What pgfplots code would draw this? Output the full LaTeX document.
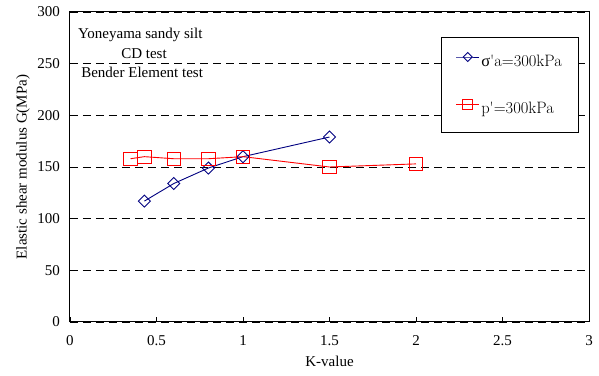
\documentclass[border=0pt]{standalone}
\usepackage{pgfplots}
\pgfplotsset{compat=1.18}
\usepackage{fontspec}
\setmainfont{Liberation Serif}
\newfontfamily\lmfont{Latin Modern Roman}
\definecolor{navyb}{RGB}{0,0,128}
\definecolor{redr}{RGB}{255,0,0}
\begin{document}
\fontsize{15}{18}\selectfont
\begin{tikzpicture}
\begin{axis}[
  name=ax,
  scale only axis,
  width=519pt, height=310pt,
  xmin=0, xmax=3, ymin=0, ymax=300,
  xtick={0,0.5,...,3},
  ytick={0,50,...,300},
  xticklabels={0,0.5,1,1.5,2,2.5,3},
  xtick pos=left, ytick pos=left,
  tick align=inside,
  major tick length=5pt,
  tick style={black, line width=0.8pt},
  axis line style={line width=1pt, black},
  ymajorgrids,
  major grid style={black, line width=0.8pt, dash pattern=on 8pt off 5pt},
  /pgf/number format/assume math mode=true,
  tick label style={font=\fontsize{15}{18}\selectfont},
  xticklabel style={yshift=-8pt},
  yticklabel style={xshift=-5pt},
  label style={font=\fontsize{15}{18}\selectfont},
  xlabel={K-value},
  ylabel={Elastic shear modulus G(MPa)},
  xlabel style={at={(axis description cs:0.5,0)}, anchor=center, yshift=-39pt},
  ylabel style={at={(axis description cs:-0.0906,0.5)}, anchor=center},
  legend style={font=\lmfont\fontsize{16.5}{19}\selectfont, draw=black, line width=0.8pt,
    at={(rel axis cs:0.7148,0.919)}, anchor=north west,
    nodes={inner sep=1.5pt},
    inner xsep=14.5pt, inner ysep=15pt, row sep=29pt},
  legend cell align=left,
  legend image code/.code={
    \draw[mark repeat=2, mark phase=2, /tikz/every mark/.append style={scale=0.75}]
      plot coordinates {(0pt,5pt) (11.5pt,5pt) (23pt,5pt)};
  },
]
\addplot[color=navyb, line width=0.9pt, mark=square, mark size=4.25pt,
  mark options={rotate=45, solid, line width=0.9pt}]
  coordinates {(0.43,117) (0.6,134) (0.8,149) (1.0,160) (1.5,179)};
\addlegendentry{{\normalfont σ}'a=300kPa}
\addplot[color=redr, line width=0.9pt, mark=square, mark size=6.6pt,
  mark options={solid, line width=0.9pt}]
  coordinates {(0.35,158) (0.43,160) (0.6,158) (0.8,158) (1.0,160) (1.5,150) (2.0,153)};
\addlegendentry{p'=300kPa}
\node[anchor=west, inner sep=0pt] at (axis cs:0.046,278) {Yoneyama sandy silt};
\node[anchor=center, inner sep=0pt] at (axis cs:0.428,259.5) {CD test};
\node[anchor=west, inner sep=0pt] at (axis cs:0.064,242) {Bender Element test};
\end{axis}
\useasboundingbox ([shift={(-70pt,-54pt)}]ax.south west) rectangle ([shift={(10pt,12pt)}]ax.north east);
\end{tikzpicture}
\end{document}
